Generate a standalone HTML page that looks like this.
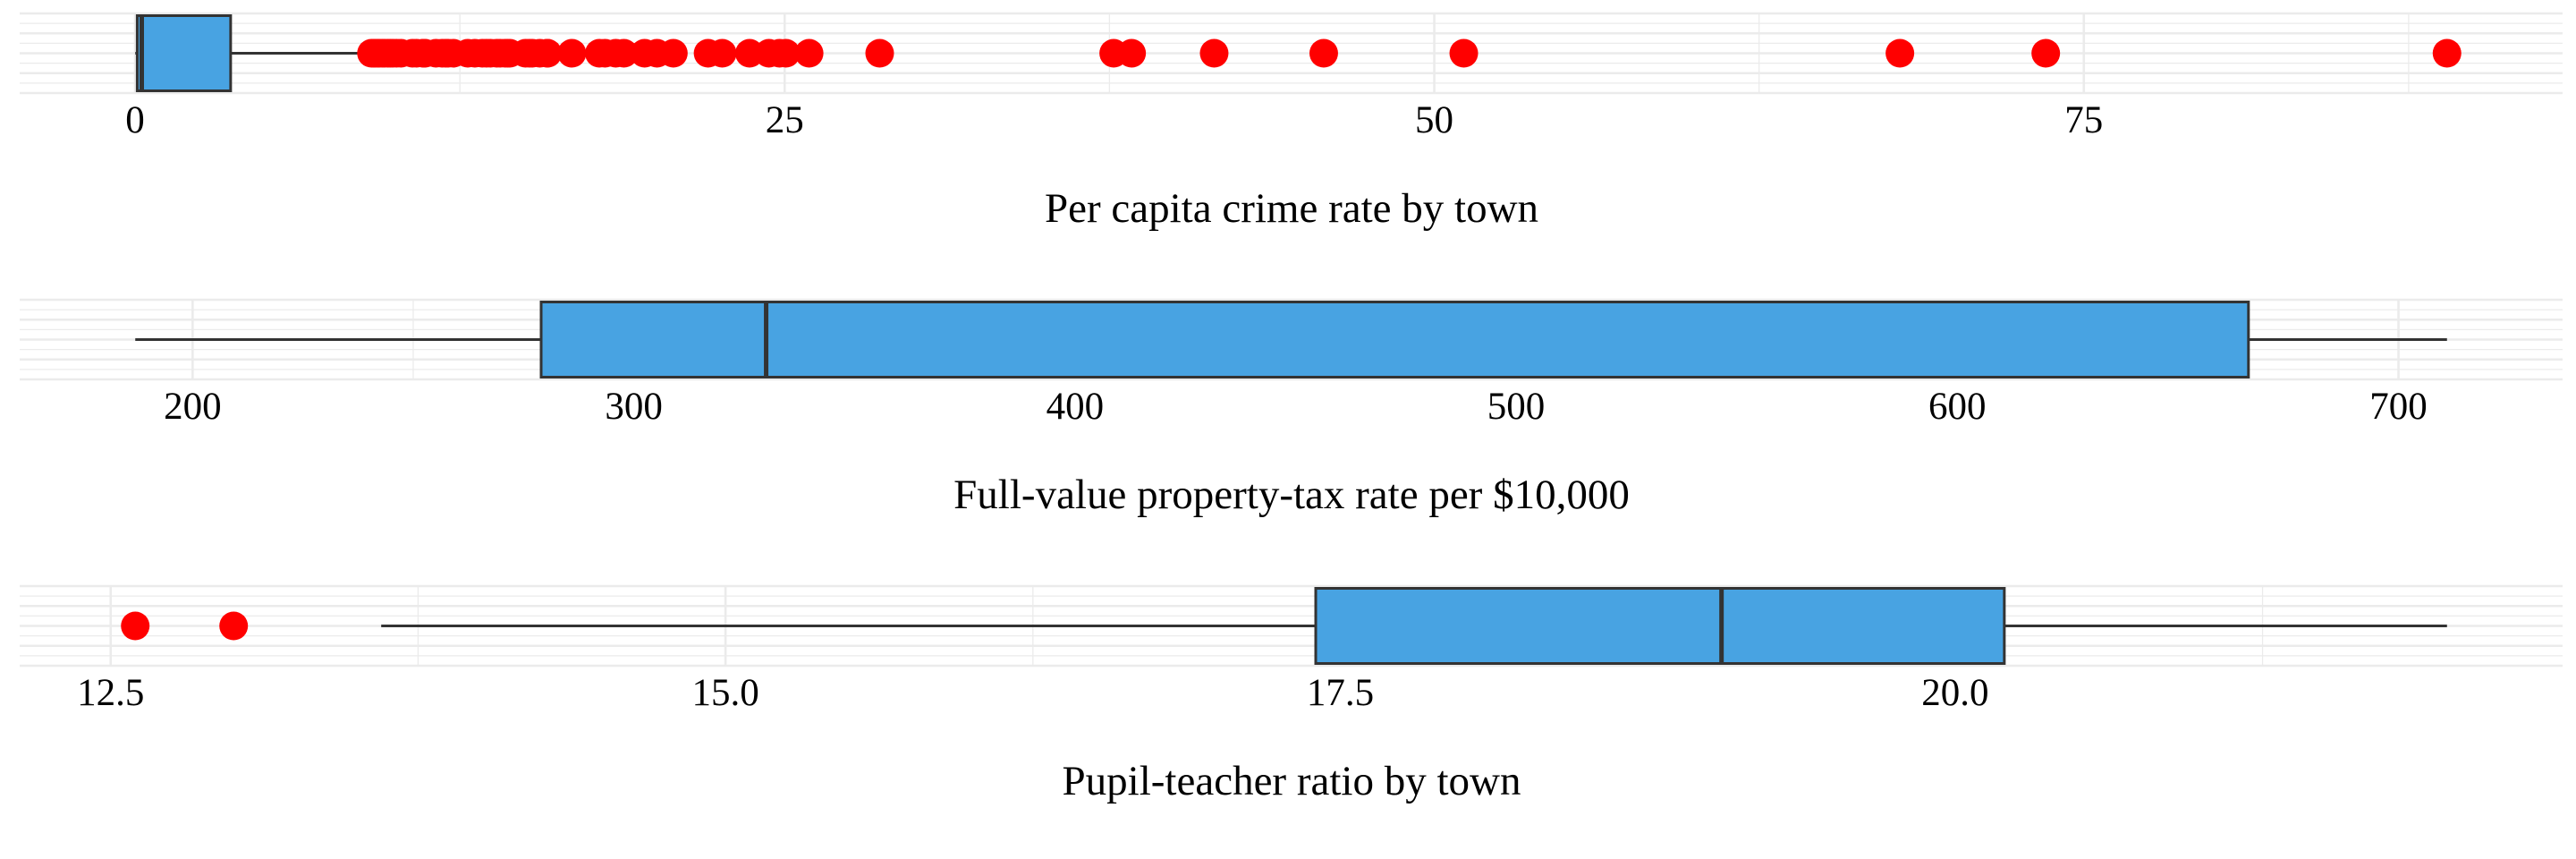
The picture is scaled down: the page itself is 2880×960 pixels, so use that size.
<!DOCTYPE html>
<html><head><meta charset="utf-8"><style>
html,body{margin:0;padding:0;background:#fff;}
svg{display:block;}
text{font-family:"Liberation Serif",serif;fill:#000;}
</style></head><body>
<svg id="chart" width="2880" height="960" viewBox="0 0 2880 960" xmlns="http://www.w3.org/2000/svg"></svg>
<script>
// ---- data ----
const crimTicks = [0, 25, 50, 75];
const crimMinor = [12.5, 37.5, 62.5, 87.5];
const crimStats = [0.00632, 0.082, 0.2565, 3.677, 8.983]; // lo whisker, q1, median, q3, hi whisker
const crimOutliers = [9.0966, 9.18702, 9.2323, 9.33889, 9.39063, 9.51363, 9.59571, 9.72418, 9.82349, 9.91655, 10.0623, 10.233, 10.6718, 10.8342, 11.0874, 11.1081, 11.1604, 11.5779, 11.8123, 11.9511, 12.0482, 12.2472, 12.8023, 13.0751, 13.3598, 13.5222, 13.6781, 13.9134, 14.0507, 14.2362, 14.3337, 14.4208, 15.0234, 15.1772, 15.288, 15.5757, 15.8603, 15.8744, 16.8118, 17.8667, 18.0846, 18.4982, 18.811, 19.6091, 20.0849, 20.7162, 22.0511, 22.5971, 23.6482, 24.3938, 24.8017, 25.0461, 25.9406, 28.6558, 37.6619, 38.3518, 41.5292, 45.7461, 51.1358, 67.9208, 73.5341, 88.9762];
const crimRange = [0.00632, 88.9762];

const taxTicks = [200, 300, 400, 500, 600, 700];
const taxMinor = [250, 350, 450, 550, 650];
const taxStats = [187, 279, 330, 666, 711];
const taxOutliers = [];
const taxRange = [187, 711];

const ptTicks = [12.5, 15.0, 17.5, 20.0];
const ptTickLabels = ["12.5", "15.0", "17.5", "20.0"];
const ptMinor = [13.75, 16.25, 18.75, 21.25];
const ptStats = [13.6, 17.4, 19.05, 20.2, 22.0];
const ptOutliers = [12.6, 13.0];
const ptRange = [12.6, 22.0];

const titles = ["Per capita crime rate by town", "Full-value property-tax rate per $10,000", "Pupil-teacher ratio by town"];

// ---- drawing ----
const svg = document.getElementById('chart');
const NS = 'http://www.w3.org/2000/svg';
const PL = 22, PR = 2865, PH = 89;
function mk(tag, attrs, parent) {
  const e = document.createElementNS(NS, tag);
  for (const k in attrs) e.setAttribute(k, attrs[k]);
  parent.appendChild(e);
  return e;
}
function axis(range) {
  const span = range[1] - range[0];
  const lo = range[0] - span * 0.05, hi = range[1] + span * 0.05;
  return v => PL + (v - lo) / (hi - lo) * (PR - PL);
}
function panel(i, name, range, ticks, tickLabels, minor, stats, outliers) {
  const top = 15 + i * 320;
  const x = axis(range);
  const g = mk('g', {}, svg);
  
  
  // horizontal grid
  for (let k = 0; k <= 8; k++) {
    const y = top + k * PH / 8;
    const l = mk('line', {x1: PL, x2: PR, y1: y, y2: y, stroke: '#ebebeb', 'stroke-width': k % 2 === 0 ? 2.6 : 1.3}, g);
    
    
  }
  minor.forEach(v => {
    const l = mk('line', {x1: x(v), x2: x(v), y1: top, y2: top + PH, stroke: '#ebebeb', 'stroke-width': 1.3}, g);
    
    
  });
  ticks.forEach((v, k) => {
    const l = mk('line', {x1: x(v), x2: x(v), y1: top, y2: top + PH, stroke: '#ebebeb', 'stroke-width': 2.6}, g);
    
    
    const t = mk('text', {x: x(v), y: top + 133, 'font-size': 43, 'text-anchor': 'middle'}, g);
    t.textContent = tickLabels ? tickLabels[k] : String(v);
    
    
  });
  const cy = top + PH / 2;
  const wl = mk('line', {x1: x(stats[0]), x2: x(stats[1]), y1: cy, y2: cy, stroke: '#333', 'stroke-width': 3}, g);
  
  
  const wh = mk('line', {x1: x(stats[3]), x2: x(stats[4]), y1: cy, y2: cy, stroke: '#333', 'stroke-width': 3}, g);
  
  
  const box = mk('rect', {x: x(stats[1]), y: top + 2.5, width: x(stats[3]) - x(stats[1]), height: PH - 5, fill: '#48a3e2', stroke: '#333', 'stroke-width': 3}, g);
  
  
  const med = mk('line', {x1: x(stats[2]), x2: x(stats[2]), y1: top + 2.5, y2: top + PH - 2.5, stroke: '#333', 'stroke-width': 5}, g);
  
  
  outliers.forEach(v => {
    const c = mk('circle', {cx: x(v), cy: cy, r: 16, fill: '#ff0000'}, g);
    
    
  });
  const tt = mk('text', {x: 1444, y: top + 233, 'font-size': 47, 'text-anchor': 'middle'}, g);
  tt.textContent = titles[i];
  
  
}
panel(0, 'crime-rate', crimRange, crimTicks, null, crimMinor, crimStats, crimOutliers);
panel(1, 'property-tax', taxRange, taxTicks, null, taxMinor, taxStats, taxOutliers);
panel(2, 'pupil-teacher', ptRange, ptTicks, ptTickLabels, ptMinor, ptStats, ptOutliers);
</script>
</body></html>
